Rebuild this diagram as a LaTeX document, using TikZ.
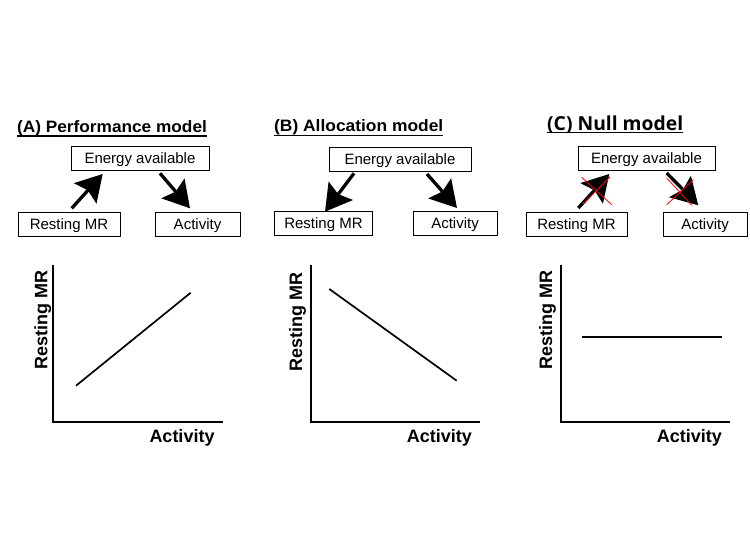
\documentclass[tikz,border=0pt]{standalone}
\usepackage{fontspec}
\setmainfont{Liberation Sans}
\newfontfamily\opensans{Open Sans}
\usetikzlibrary{arrows.meta}
\tikzset{
  ebox/.style={draw=black, line width=1pt, inner sep=0pt, text height=10.7pt, text depth=0pt, font=\fontsize{15}{17}\selectfont},
  bigarrow/.style={line width=3.3pt, -{Stealth[length=26pt,width=30pt,inset=4pt]}},
  redx/.style={draw=red, line width=0.8pt},
  axis/.style={line width=2.4pt, line cap=rect},
  dataline/.style={line width=1.7pt},
  axlabel/.style={font=\bfseries\fontsize{18}{20}\selectfont, inner sep=0pt},
  ttl/.style={font=\bfseries\fontsize{16.5}{18}\selectfont, inner sep=0pt},
  uline/.style={line width=1.3pt}
}
\begin{document}
\begin{tikzpicture}[x=1pt,y=-1pt]
\useasboundingbox[fill=white] (0,0) rectangle (750,555);

% ---------- Titles ----------
\node[ttl, anchor=base west] (tA) at (17,132.3) {\scalebox{1.045}[1]{(A) Performance model}};
\draw[uline] (17,136) -- (207,136);
\node[ttl, anchor=base west] (tB) at (274,131.7) {\scalebox{1.054}[1]{(B) Allocation model}};
\draw[uline] (274,135.5) -- (443,135.5);
\node[font=\opensans\bfseries\fontsize{19.3}{21}\selectfont, inner sep=0pt, anchor=base west] (tC) at (547,130) {(C) Null model};
\draw[uline] (547,132.6) -- (683,132.6);

% ---------- Panel A boxes ----------
\node[ebox, minimum width=138pt, minimum height=24pt] (eA) at (140,158.5) {Energy available};
\node[ebox, minimum width=102pt, minimum height=24pt] (rA) at (69,224) {Resting MR};
\node[ebox, minimum width=85pt, minimum height=24pt] (aA) at (197.5,224) {Activity};
\coordinate (a1s) at (71.7,208.3); \coordinate (a1e) at (102.7,174);
\coordinate (a2s) at (160,173.3);  \coordinate (a2e) at (190,208.3);
\draw[bigarrow] (a1s) -- (a1e);
\draw[bigarrow] (a2s) -- (a2e);

% ---------- Panel B boxes ----------
\node[ebox, minimum width=142pt, minimum height=24pt] (eB) at (400,159) {Energy available};
\node[ebox, minimum width=98pt, minimum height=24pt] (rB) at (323.5,223.5) {Resting MR};
\node[ebox, minimum width=84pt, minimum height=24pt] (aB) at (455,223.5) {Activity};
\coordinate (b1s) at (354,173.3); \coordinate (b1e) at (325,211.7);
\coordinate (b2s) at (427,174); \coordinate (b2e) at (457,208);
\draw[bigarrow] (b1s) -- (b1e);
\draw[bigarrow] (b2s) -- (b2e);

% ---------- Panel C boxes ----------
\node[ebox, minimum width=137pt, minimum height=24pt] (eC) at (646.5,158.5) {Energy available};
\node[ebox, minimum width=101pt, minimum height=24pt] (rC) at (576.5,224) {Resting MR};
\node[ebox, minimum width=84pt, minimum height=24pt] (aC) at (705,224) {Activity};
\coordinate (c1s) at (578.3,208); \coordinate (c1e) at (609.3,174);
\coordinate (c2s) at (666.7,173); \coordinate (c2e) at (698.3,205.3);
\draw[bigarrow] (c1s) -- (c1e);
\draw[bigarrow] (c2s) -- (c2e);
\coordinate (x1a) at (581.7,177.3); \coordinate (x1b) at (611.7,204.7);
\coordinate (x1c) at (583,204);     \coordinate (x1d) at (610,177);
\coordinate (x2a) at (666.7,178);   \coordinate (x2b) at (691.7,205.3);
\coordinate (x2c) at (666.7,204.7); \coordinate (x2d) at (693.3,179.7);
\draw[redx] (x1a) -- (x1b);
\draw[redx] (x1c) -- (x1d);
\draw[redx] (x2a) -- (x2b);
\draw[redx] (x2c) -- (x2d);

% ---------- Graph A ----------
\coordinate (oA) at (52.7,421.7);
\coordinate (yA) at (52.7,266);
\coordinate (xA) at (221.7,421.7);
\draw[axis] (yA) -- (oA) -- (xA);
\coordinate (dA1) at (76,385.7); \coordinate (dA2) at (190.7,292.7);
\draw[dataline] (dA1) -- (dA2);
\node[axlabel, anchor=base west] (lxA) at (149.3,442.7) {Activity};
\node[axlabel, anchor=base west, rotate=90] (lyA) at (47.3,370) {Resting MR};

% ---------- Graph B ----------
\coordinate (oB) at (310.7,421.7);
\coordinate (yB) at (310.7,266);
\coordinate (xB) at (479,421.7);
\draw[axis] (yB) -- (oB) -- (xB);
\coordinate (dB1) at (329.3,289); \coordinate (dB2) at (456.7,380.7);
\draw[dataline] (dB1) -- (dB2);
\node[axlabel, anchor=base west] (lxB) at (406.7,442.7) {Activity};
\node[axlabel, anchor=base west, rotate=90] (lyB) at (302,372) {Resting MR};

% ---------- Graph C ----------
\coordinate (oC) at (560.7,421.7);
\coordinate (yC) at (560.7,266);
\coordinate (xC) at (729,421.7);
\draw[axis] (yC) -- (oC) -- (xC);
\coordinate (dC1) at (582.3,337); \coordinate (dC2) at (722,337);
\draw[line width=2.3pt] (dC1) -- (dC2);
\node[axlabel, anchor=base west] (lxC) at (656.7,442.7) {Activity};
\node[axlabel, anchor=base west, rotate=90] (lyC) at (552,370) {Resting MR};
\end{tikzpicture}
\end{document}
